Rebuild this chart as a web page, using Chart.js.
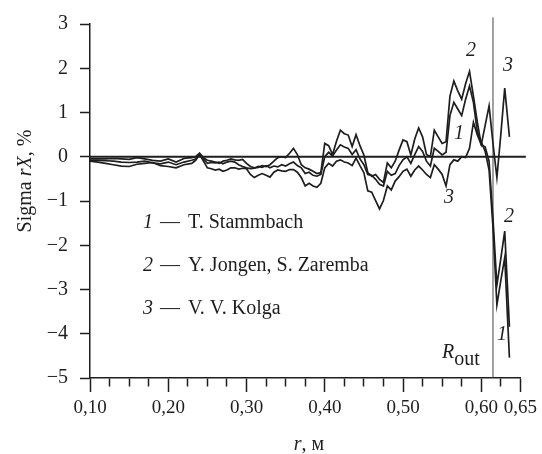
<!DOCTYPE html>
<html>
<head>
<meta charset="utf-8">
<script src="https://cdn.jsdelivr.net/npm/chart.js@4/dist/chart.umd.min.js"></script>
<style>
  body { margin: 0; background: #fff; }
  canvas { display: block; }
</style>
</head>
<body>
<canvas id="myChart" width="542" height="454"></canvas>
<script>
// r, m
const rValues = [
  0.10, 0.11, 0.12, 0.13, 0.14, 0.15, 0.16, 0.17, 0.18, 0.19, 0.20, 0.21, 0.22, 0.23,
  0.235, 0.24, 0.245, 0.25, 0.255, 0.26, 0.265, 0.27, 0.275, 0.28, 0.285, 0.29, 0.295, 0.30,
  0.305, 0.31, 0.315, 0.32, 0.325, 0.33, 0.335, 0.34, 0.345, 0.35, 0.355, 0.36, 0.365, 0.37,
  0.375, 0.38, 0.385, 0.39, 0.395, 0.40, 0.405, 0.41, 0.415, 0.42, 0.425, 0.43, 0.435, 0.44,
  0.445, 0.45, 0.455, 0.46, 0.465, 0.47, 0.475, 0.48, 0.485, 0.49, 0.495, 0.50, 0.505, 0.51,
  0.515, 0.52, 0.525, 0.53, 0.535, 0.54, 0.545, 0.55, 0.555, 0.56, 0.565, 0.57, 0.575, 0.58,
  0.585, 0.59, 0.595, 0.60, 0.605, 0.61, 0.615, 0.62, 0.625, 0.63, 0.636
];

// 1 - T. Stammbach
const stammbach = [
  -0.08, -0.08, -0.09, -0.10, -0.12, -0.13, -0.12, -0.10, -0.14, -0.16, -0.12, -0.18, -0.12, -0.08,
  -0.05, 0.07, -0.05, -0.15, -0.13, -0.14, -0.12, -0.16, -0.12, -0.10, -0.12, -0.18, -0.22, -0.25,
  -0.27, -0.26, -0.22, -0.24, -0.20, -0.25, -0.21, -0.23, -0.18, -0.21, -0.16, -0.12, -0.20, -0.25,
  -0.38, -0.35, -0.42, -0.44, -0.40, 0.00, 0.10, 0.02, 0.15, 0.27, 0.22, 0.19, 0.05, 0.16,
  -0.05, -0.18, -0.40, -0.42, -0.51, -0.62, -0.66, -0.33, -0.42, -0.38, -0.20, -0.07, 0.00, -0.15,
  0.05, 0.23, 0.12, -0.10, -0.21, 0.19, 0.12, 0.04, 0.10, 0.93, 1.23, 1.08, 0.93, 1.30,
  1.60, 1.23, 0.56, 0.34, 0.12, -0.30, -1.60, -3.35, -2.80, -2.28, -4.54
];

// 2 - Y. Jongen, S. Zaremba
const jongen = [
  -0.05, -0.05, -0.05, -0.04, -0.05, -0.06, -0.02, -0.05, -0.08, -0.10, -0.05, -0.12, -0.04, -0.02,
  0.00, 0.08, -0.02, -0.08, -0.10, -0.12, -0.15, -0.10, -0.08, -0.05, -0.07, -0.08, -0.06, -0.15,
  -0.22, -0.25, -0.24, -0.20, -0.22, -0.18, -0.10, -0.02, 0.00, -0.02, 0.08, 0.19, 0.05, -0.18,
  -0.25, -0.28, -0.33, -0.38, -0.36, 0.30, 0.25, 0.05, 0.35, 0.60, 0.52, 0.49, 0.23, 0.50,
  0.25, 0.04, -0.36, -0.44, -0.40, -0.51, -0.58, -0.14, -0.25, -0.10, 0.15, 0.38, 0.34, 0.04,
  0.40, 0.65, 0.45, 0.05, 0.00, 0.60, 0.45, 0.30, 0.34, 1.37, 1.71, 1.49, 1.30, 1.65,
  1.93, 1.37, 0.78, 0.27, 0.22, -0.10, -1.40, -2.90, -2.30, -1.68, -3.84
];

// 3 - V. V. Kolga
const kolga = [
  -0.10, -0.12, -0.15, -0.18, -0.21, -0.22, -0.17, -0.15, -0.13, -0.20, -0.22, -0.25, -0.18, -0.15,
  -0.08, 0.05, -0.10, -0.25, -0.27, -0.30, -0.28, -0.33, -0.30, -0.25, -0.25, -0.28, -0.26, -0.27,
  -0.40, -0.47, -0.42, -0.38, -0.42, -0.46, -0.35, -0.30, -0.32, -0.33, -0.29, -0.29, -0.35, -0.47,
  -0.66, -0.60, -0.66, -0.69, -0.60, -0.25, -0.15, -0.21, -0.10, -0.07, -0.12, -0.14, -0.20, -0.03,
  -0.20, -0.36, -0.77, -0.80, -0.99, -1.18, -0.99, -0.66, -0.75, -0.55, -0.45, -0.33, -0.28, -0.44,
  -0.30, -0.21, -0.30, -0.40, -0.47, -0.18, -0.28, -0.40, -0.66, -0.18, -0.07, -0.10, 0.00, -0.02,
  0.19, 0.78, 0.49, 0.27, 0.71, 1.15, 0.30, -0.47, 0.50, 1.55, 0.45
];

const rOut = 0.615;
const zeroLineR = [0.10, 0.657];
const rOutLineY = [-5, 3.15];

const xTicks = [0.10, 0.125, 0.15, 0.175, 0.20, 0.225, 0.25, 0.275, 0.30, 0.325, 0.35, 0.375,
  0.40, 0.425, 0.45, 0.475, 0.50, 0.525, 0.55, 0.575, 0.60, 0.625, 0.65];
const xLabels = [0.10, 0.20, 0.30, 0.40, 0.50, 0.60, 0.65];
const yTicks = [-5, -4.5, -4, -3.5, -3, -2.5, -2, -1.5, -1, -0.5, 0, 0.5, 1, 1.5, 2, 2.5, 3];

const legendItems = [
  { num: "1", name: "T. Stammbach" },
  { num: "2", name: "Y. Jongen, S. Zaremba" },
  { num: "3", name: "V. V. Kolga" }
];

const serif = '"Liberation Serif", "Times New Roman", serif';
const ink = "#1e1e1e";

const isLabelX = (v) => xLabels.some((l) => Math.abs(l - v) < 1e-6);
const isMajorY = (v) => Math.abs(v - Math.round(v)) < 1e-6;

const toPoints = (vals) => vals.map((v, i) => ({ x: rValues[i], y: v }));

const curveStyle = {
  borderColor: ink,
  borderWidth: 1.7,
  pointRadius: 0,
  tension: 0,
  fill: false
};

function drawRuns(c, runs, x, y, align) {
  let w = 0;
  runs.forEach((r) => { c.font = r.f; w += c.measureText(r.t).width; });
  let cx = align === "center" ? x - w / 2 : x;
  runs.forEach((r) => {
    c.font = r.f;
    c.fillText(r.t, cx, y + (r.dy || 0));
    cx += c.measureText(r.t).width;
  });
}

const textPlugin = {
  id: "texts",
  afterDraw(chart) {
    const c = chart.ctx;
    const reg = "20px " + serif;
    const ita = "italic 20px " + serif;
    c.save();
    c.fillStyle = ink;
    c.textBaseline = "alphabetic";

    // y axis title
    c.save();
    c.translate(31, 181);
    c.rotate(-Math.PI / 2);
    drawRuns(c, [{ t: "Sigma ", f: reg }, { t: "rX", f: ita }, { t: ", %", f: reg }], 0, 0, "center");
    c.restore();

    // x axis title
    drawRuns(c, [{ t: "r", f: ita }, { t: ", м", f: reg }], 309, 450, "center");

    // legend
    legendItems.forEach((it, i) => {
      const by = 228 + i * 43;
      c.font = ita;
      c.fillText(it.num, 143, by);
      c.font = reg;
      c.fillText("\u2014", 160, by);
      c.fillText(it.name, 188, by);
    });

    // curve labels
    c.textAlign = "center";
    c.textBaseline = "middle";
    c.font = ita;
    [["2", 471, 51], ["3", 508, 66], ["1", 459, 134], ["3", 449, 198], ["2", 509, 217], ["1", 502, 335]]
      .forEach(([t, x, y]) => c.fillText(t, x, y));

    // R_out
    c.textAlign = "left";
    c.textBaseline = "alphabetic";
    drawRuns(c, [{ t: "R", f: ita }, { t: "out", f: reg, dy: 7 }], 442, 358, "left");
    c.restore();
  }
};

const ctx = document.getElementById("myChart");

new Chart(ctx, {
  type: "line",
  data: {
    datasets: [
      { ...curveStyle, data: toPoints(stammbach) },
      { ...curveStyle, data: toPoints(jongen) },
      { ...curveStyle, data: toPoints(kolga) },
      {
        data: zeroLineR.map((r) => ({ x: r, y: 0 })),
        borderColor: ink, borderWidth: 1.8, pointRadius: 0, clip: false
      },
      {
        data: rOutLineY.map((v) => ({ x: rOut, y: v })),
        borderColor: "#444", borderWidth: 1, pointRadius: 0, clip: false
      }
    ]
  },
  options: {
    responsive: false,
    animation: false,
    layout: { padding: { top: 17, right: 19, left: 0, bottom: 0 } },
    plugins: { legend: { display: false }, tooltip: { enabled: false } },
    scales: {
      x: {
        type: "linear",
        min: 0.10,
        max: 0.65,
        afterBuildTicks: (s) => { s.ticks = xTicks.map((v) => ({ value: v })); },
        afterFit: (s) => { s.height = 76; },
        border: { color: ink, width: 1.5 },
        grid: {
          drawOnChartArea: false,
          tickLength: 14,
          tickColor: ink,
          tickWidth: 1.5,
          tickBorderDash: (c) => (isLabelX(c.tick.value) ? [] : [8, 40])
        },
        ticks: {
          autoSkip: false,
          maxRotation: 0,
          padding: 5,
          color: ink,
          font: { family: serif, size: 19 },
          callback: (v) => (isLabelX(v) ? v.toFixed(2).replace(".", ",") : "")
        }
      },
      y: {
        min: -5,
        max: 3,
        afterBuildTicks: (s) => { s.ticks = yTicks.map((v) => ({ value: v })); },
        afterFit: (s) => { s.width = 90; },
        border: { color: ink, width: 1.5 },
        grid: {
          drawOnChartArea: false,
          tickLength: 10,
          tickColor: ink,
          tickWidth: 1.5,
          tickBorderDash: (c) => (isMajorY(c.tick.value) ? [] : [7, 40])
        },
        ticks: {
          padding: 12,
          color: ink,
          font: { family: serif, size: 20 },
          callback: (v) => (isMajorY(v) ? (v < 0 ? "\u2212" + -v : String(v)) : "")
        }
      }
    }
  },
  plugins: [textPlugin]
});
</script>
</body>
</html>
